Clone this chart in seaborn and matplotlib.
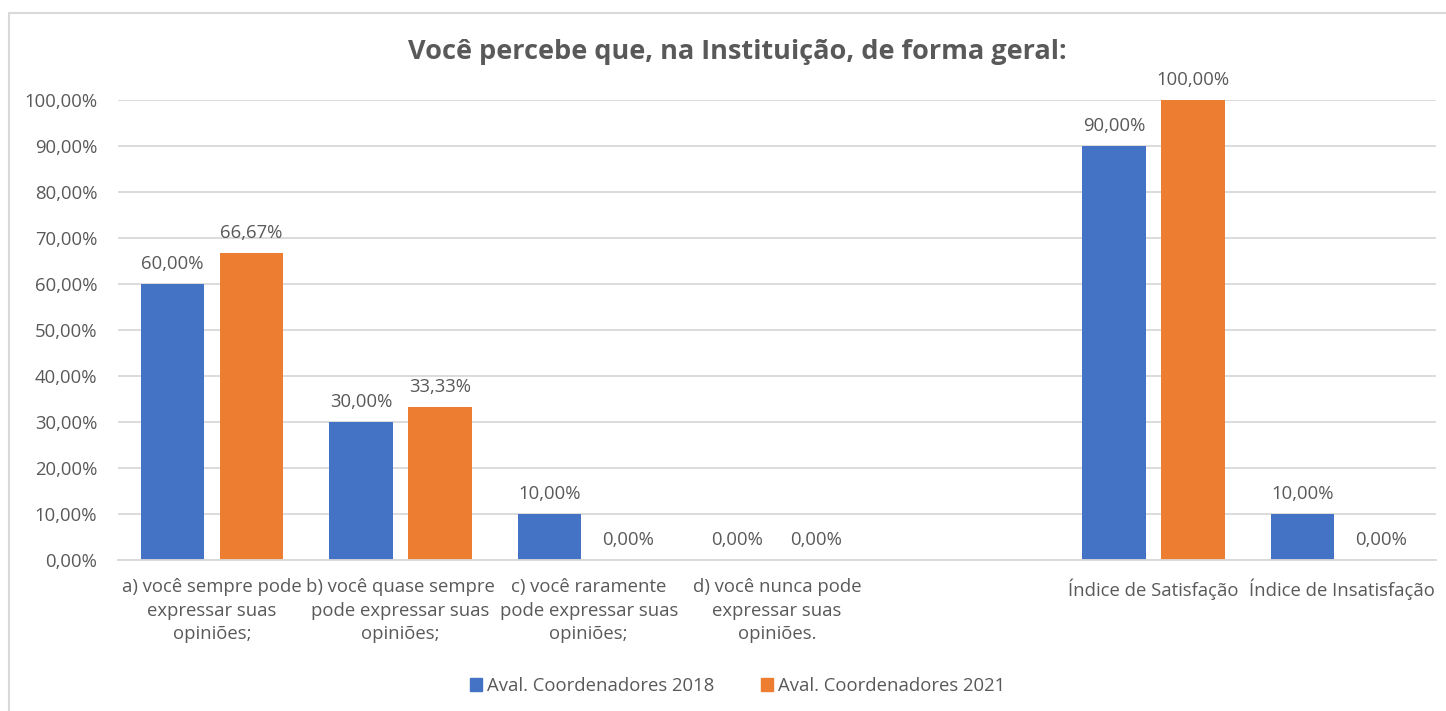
import numpy as np
import pandas as pd
import matplotlib.pyplot as plt
import matplotlib.patches as mpatches
from matplotlib.ticker import FuncFormatter, MultipleLocator
import seaborn as sns

sns.set_style("white")
plt.rcParams['font.family'] = ['Open Sans', 'DejaVu Sans']

# data
categories = [
    "a) você sempre pode\nexpressar suas\nopiniões;",
    "b) você quase sempre\npode expressar suas\nopiniões;",
    "c) você raramente\npode expressar suas\nopiniões;",
    "d) você nunca pode\nexpressar suas\nopiniões.",
    " ",
    "Índice de Satisfação",
    "Índice de Insatisfação",
]
aval_2018 = [60.00, 30.00, 10.00, 0.00, np.nan, 90.00, 10.00]
aval_2021 = [66.67, 33.33, 0.00, 0.00, np.nan, 100.00, 0.00]
series = ["Aval. Coordenadores 2018", "Aval. Coordenadores 2021"]
colors = ["#4472C4", "#ED7D31"]

df = pd.DataFrame({
    "categoria": categories * 2,
    "valor": aval_2018 + aval_2021,
    "serie": [series[0]] * len(categories) + [series[1]] * len(categories),
})

gray = "#595959"
fs = 13.3

fig = plt.figure(figsize=(14.46, 7.11), dpi=100)
ax = fig.add_axes([118 / 1446, 1 - 560 / 711, (1436 - 118) / 1446, 460 / 711])

sns.barplot(data=df, x="categoria", y="valor", hue="serie", order=categories,
            palette=colors, saturation=1, width=0.84, gap=0.2, linewidth=0,
            ax=ax, legend=False)

def pct(v):
    if np.isnan(v):
        return ""
    return f"{v:.2f}%".replace(".", ",")

for cont in ax.containers:
    ax.bar_label(cont, labels=[pct(p.get_height()) for p in cont], padding=8,
                 fontsize=fs, color=gray)

ax.set_ylim(0, 100)
ax.set_xlim(-0.5, len(categories) - 0.5)
ax.yaxis.set_major_locator(MultipleLocator(10))
ax.yaxis.set_major_formatter(FuncFormatter(lambda v, p: f"{v:.2f}%".replace(".", ",")))
ax.set_xticks(range(len(categories)))
ax.set_xticklabels(categories, linespacing=1.4)
ax.grid(axis="y", color="#D9D9D9", linewidth=1.3)
ax.set_axisbelow(True)
for s in ["top", "right", "left"]:
    ax.spines[s].set_visible(False)
ax.spines["bottom"].set_color("#D9D9D9")
ax.spines["bottom"].set_linewidth(1.3)
ax.tick_params(axis="both", length=0, labelsize=fs, labelcolor=gray)
ax.tick_params(axis="y", pad=15)
ax.tick_params(axis="x", pad=13)
ax.set_xlabel("")
ax.set_ylabel("")

fig.text(0.51, 1 - 52 / 711, "Você percebe que, na Instituição, de forma geral:",
         ha="center", va="center", fontsize=19.5, fontweight="bold", color=gray)

handles = [mpatches.Patch(color=c, label=l) for c, l in zip(colors, series)]
fig.legend(handles=handles, loc="center", bbox_to_anchor=(0.51, 1 - 686 / 711),
           ncol=2, frameon=False, fontsize=fs, labelcolor=gray,
           handlelength=0.65, handleheight=0.65, handletextpad=0.3, columnspacing=2.5)

# chart border
fig.patches.append(mpatches.Rectangle((9 / 1446, -0.05), 1.1, 1 - 13 / 711 + 0.05,
                                      transform=fig.transFigure, fill=False,
                                      edgecolor="#D9D9D9", linewidth=1.5))

fig.savefig("out.png", dpi=100)
